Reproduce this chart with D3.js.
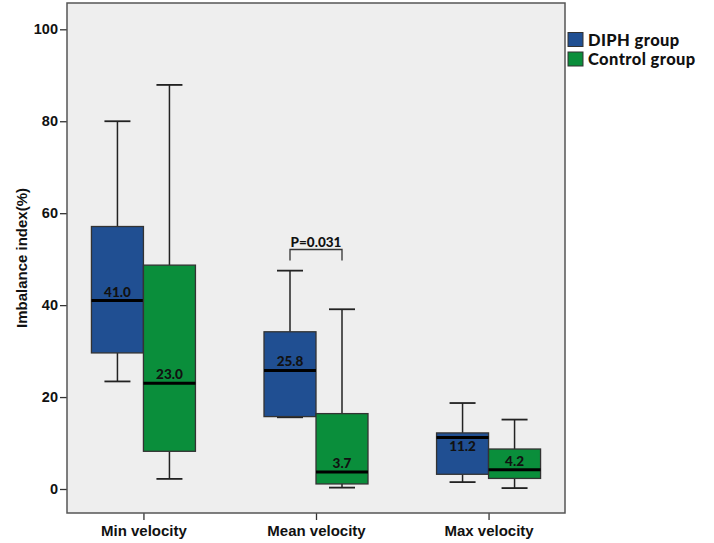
<!DOCTYPE html>
<html>
<head>
<meta charset="utf-8">
<script src="https://cdn.jsdelivr.net/npm/d3@7"></script>
<style>
  body { margin: 0; background: #fff; }
  svg { display: block; }
</style>
</head>
<body>
<div id="chart"></div>
<script>
// data: [lower whisker, Q1, median, Q3, upper whisker]
const categories = ["Min velocity", "Mean velocity", "Max velocity"];
const groups = ["DIPH group", "Control group"];
const diphBoxes = [
  [23.4, 29.6, 41.0, 57.1, 80.0],
  [15.6, 15.75, 25.8, 34.2, 47.5],
  [1.5, 3.2, 11.2, 12.2, 18.7]
];
const controlBoxes = [
  [2.2, 8.2, 23.0, 48.7, 87.9],
  [0.3, 1.1, 3.7, 16.4, 39.1],
  [0.2, 2.3, 4.2, 8.7, 15.1]
];
const diphMedianLabels = ["41.0", "25.8", "11.2"];
const controlMedianLabels = ["23.0", "3.7", "4.2"];
const yTicks = [0, 20, 40, 60, 80, 100];
const pLabel = "P=0.031";
const pCategory = "Mean velocity";
const pLevel = 52.1;

const width = 714, height = 543;
const plot = {left: 67, right: 565, top: 3, bottom: 513};
const colors = {"DIPH group": "#204f92", "Control group": "#0a8e3b"};
const arial = "Arial, 'Liberation Sans', 'DejaVu Sans', sans-serif";
const calibri = "Lato, 'Open Sans', sans-serif";

const svg = d3.select("#chart").append("svg")
  .attr("width", width)
  .attr("height", height);

let x = d3.scalePoint().domain(categories).range([plot.left, plot.right]).padding(0.443);
let inner = d3.scaleBand().domain(groups).range([-52, 52]);
let y = d3.scaleLinear().domain([0, 100]).range([489, 29.3]);

svg.append("rect")
  .attr("x", plot.left)
  .attr("y", plot.top)
  .attr("width", plot.right - plot.left)
  .attr("height", plot.bottom - plot.top)
  .style("fill", "#eeeeee")
  .style("stroke", "none");

// y axis
let yAxis = d3.axisLeft(y).tickValues(yTicks).tickSize(7).tickPadding(2).tickFormat(d3.format("d"));
let gy = svg.append("g")
  .attr("transform", "translate(" + plot.left + ",0)")
  .call(yAxis);
gy.attr("font-family", arial).attr("font-size", 14.5);
gy.select(".domain").remove();
gy.selectAll("line").style("stroke", "#333").style("stroke-width", 1.3);
gy.selectAll("text")
  .style("font-weight", "bold")
  .style("fill", "#111");

// x axis
let xAxis = d3.axisBottom(x).tickSize(7).tickPadding(5);
let gx = svg.append("g")
  .attr("transform", "translate(0," + plot.bottom + ")")
  .call(xAxis);
gx.attr("font-family", arial).attr("font-size", 15);
gx.select(".domain").remove();
gx.selectAll("line").style("stroke", "#333").style("stroke-width", 1.3);
gx.selectAll("text")
  .style("font-weight", "bold")
  .style("fill", "#111");

// frame
svg.append("rect")
  .attr("x", plot.left)
  .attr("y", plot.top)
  .attr("width", plot.right - plot.left)
  .attr("height", plot.bottom - plot.top)
  .style("fill", "none")
  .style("stroke", "#555")
  .style("stroke-width", 1.5);

svg.append("text")
  .attr("transform", "translate(27," + 258 + ") rotate(-90)")
  .attr("text-anchor", "middle")
  .attr("font-family", arial)
  .style("font-weight", "bold")
  .style("font-size", "15px")
  .style("fill", "#111")
  .text("Imbalance index(%)");

// boxes
let series = [
  {group: "DIPH group", boxes: diphBoxes, labels: diphMedianLabels},
  {group: "Control group", boxes: controlBoxes, labels: controlMedianLabels}
];

let boxData = [];
series.forEach(s => {
  s.boxes.forEach((b, i) => {
    boxData.push({group: s.group, cat: categories[i], v: b, label: s.labels[i]});
  });
});

let bw = inner.bandwidth();

let box = svg.selectAll("g.box")
  .data(boxData)
  .enter().append("g")
  .attr("class", "box")
  .attr("transform", d => "translate(" + (x(d.cat) + inner(d.group)) + ",0)");

// whiskers
box.append("line")
  .attr("x1", bw / 2).attr("x2", bw / 2)
  .attr("y1", d => y(d.v[3])).attr("y2", d => y(d.v[4]))
  .style("stroke", "#222").style("stroke-width", 1.5);
box.append("line")
  .attr("x1", bw / 2).attr("x2", bw / 2)
  .attr("y1", d => y(d.v[1])).attr("y2", d => y(d.v[0]))
  .style("stroke", "#222").style("stroke-width", 1.5);
box.append("line")
  .attr("x1", bw / 4).attr("x2", bw * 3 / 4)
  .attr("y1", d => y(d.v[4])).attr("y2", d => y(d.v[4]))
  .style("stroke", "#222").style("stroke-width", 1.8);
box.append("line")
  .attr("x1", bw / 4).attr("x2", bw * 3 / 4)
  .attr("y1", d => y(d.v[0])).attr("y2", d => y(d.v[0]))
  .style("stroke", "#222").style("stroke-width", 1.8);

box.append("rect")
  .attr("x", 0)
  .attr("width", bw)
  .attr("y", d => y(d.v[3]))
  .attr("height", d => y(d.v[1]) - y(d.v[3]))
  .style("fill", d => colors[d.group])
  .style("stroke", "#333")
  .style("stroke-width", 1.3);

box.append("line")
  .attr("x1", 0).attr("x2", bw)
  .attr("y1", d => y(d.v[2])).attr("y2", d => y(d.v[2]))
  .style("stroke", "#000").style("stroke-width", 3);

// label above the median, or below it when the box top is too close
box.append("text")
  .attr("x", bw / 2)
  .attr("y", d => (y(d.v[2]) - y(d.v[3]) < 14) ? y(d.v[2]) + 13 : y(d.v[2]) - 4)
  .attr("text-anchor", "middle")
  .attr("font-family", calibri)
  .style("font-weight", "900")
  .style("font-size", "13.5px")
  .style("fill", "#111")
  .text(d => d.label);

// significance bracket
let px1 = x(pCategory) + inner("DIPH group") + bw / 2;
let px2 = x(pCategory) + inner("Control group") + bw / 2;
let py = y(pLevel);
svg.append("path")
  .attr("d", "M" + px1 + "," + (py + 11) + "V" + py + "H" + px2 + "V" + (py + 11))
  .style("fill", "none")
  .style("stroke", "#333")
  .style("stroke-width", 1.3);
svg.append("text")
  .attr("x", (px1 + px2) / 2)
  .attr("y", py - 2)
  .attr("text-anchor", "middle")
  .attr("font-family", calibri)
  .style("font-weight", "900")
  .style("font-size", "13.5px")
  .style("fill", "#111")
  .text(pLabel);

// legend
let legend = svg.selectAll("g.legend")
  .data(groups)
  .enter().append("g")
  .attr("class", "legend")
  .attr("transform", (d, i) => "translate(568," + (32.5 + i * 19.5) + ")");
legend.append("rect")
  .attr("width", 15)
  .attr("height", 14)
  .style("fill", d => colors[d])
  .style("stroke", "#333")
  .style("stroke-width", 1);
legend.append("text")
  .attr("x", 20)
  .attr("y", 13)
  .attr("font-family", calibri)
  .style("font-weight", "900")
  .style("font-size", "16.5px")
  .style("letter-spacing", "0.4px")
  .style("fill", "#111")
  .text(d => d);
</script>
</body>
</html>
